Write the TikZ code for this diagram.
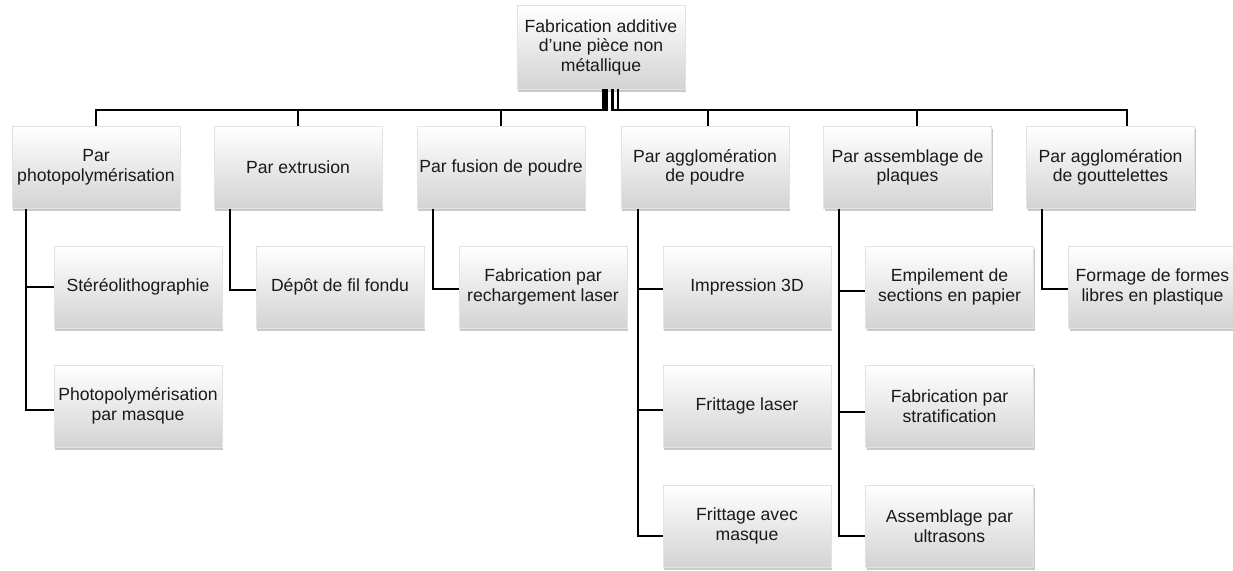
\documentclass[tikz,border=0pt]{standalone}
\usepackage{fontspec}
\setmainfont{Liberation Sans}
\usetikzlibrary{shadows}
\definecolor{boxbot}{HTML}{D3D3D3}
\definecolor{boxline}{HTML}{E2E2E2}
\definecolor{txt}{HTML}{1A1A1A}
\tikzset{
  box/.style={draw=boxline, line width=0.5pt, top color=white, bottom color=boxbot,
    minimum width=168pt, minimum height=82pt, align=center, inner sep=1pt,
    text=txt, font=\fontsize{17.6}{19.5}\selectfont,
    drop shadow={shadow xshift=1pt, shadow yshift=-2.5pt, opacity=0.5, fill=gray!85}},
  conn/.style={draw=black, line width=2pt}
}
\begin{document}
\begin{tikzpicture}[x=1pt,y=1pt]
\useasboundingbox (0,0) rectangle (1233,-570);
% root
\node[box, minimum height=84pt] (root) at (601,-47) {Fabrication additive\\d'une pièce non\\métallique};
% level 1
\node[box] (b1) at (96,-167.5)  {Par\\photopolymérisation};
\node[box] (b2) at (298,-167.5) {Par extrusion};
\node[box] (b3) at (501,-167.5) {Par fusion de poudre};
\node[box] (b4) at (705,-167.5) {Par agglomération\\de poudre};
\node[box] (b5) at (907.5,-167.5) {Par assemblage de\\plaques};
\node[box] (b6) at (1110.5,-167.5) {Par agglomération\\de gouttelettes};
% level 2
\node[box] (c11) at (138,-287) {Stéréolithographie};
\node[box] (c12) at (138,-406) {Photopolymérisation\\par masque};
\node[box] (c21) at (340,-287) {Dépôt de fil fondu};
\node[box] (c31) at (543,-287) {Fabrication par\\rechargement laser};
\node[box] (c41) at (747,-287) {Impression 3D};
\node[box] (c42) at (747,-406) {Frittage laser};
\node[box] (c43) at (747,-526) {Frittage avec\\masque};
\node[box] (c51) at (949.5,-287) {Empilement de\\sections en papier};
\node[box] (c52) at (949.5,-406) {Fabrication par\\stratification};
\node[box] (c53) at (949.5,-526) {Assemblage par\\ultrasons};
\node[box] (c61) at (1152.5,-287) {Formage de formes\\libres en plastique};
% root to level 1
\draw[conn] ([xshift=2pt]root.south) -- ++(0,-21) -| (b1.north);
\draw[conn] ([xshift=4pt]root.south) -- ++(0,-21) -| (b2.north);
\draw[conn] ([xshift=6pt]root.south) -- ++(0,-21) -| (b3.north);
\draw[conn] ([xshift=11pt]root.south) -- ++(0,-21) -| ([xshift=3pt]b4.north);
\draw[conn] ([xshift=12pt]root.south) -- ++(0,-21) -| ([xshift=9.5pt]b5.north);
\draw[conn] ([xshift=17pt]root.south) -- ++(0,-21) -| ([xshift=16.5pt]b6.north);
% level 1 to level 2
\draw[conn] ([xshift=14pt]b1.south west) |- (c11.west);
\draw[conn] ([xshift=14pt]b1.south west) |- ([yshift=-4pt]c12.west);
\draw[conn] ([xshift=16pt]b2.south west) |- ([yshift=-3pt]c21.west);
\draw[conn] ([xshift=16pt]b3.south west) |- ([yshift=-2pt]c31.west);
\draw[conn] ([xshift=17pt]b4.south west) |- ([yshift=-2pt]c41.west);
\draw[conn] ([xshift=17pt]b4.south west) |- ([yshift=-4pt]c42.west);
\draw[conn] ([xshift=17pt]b4.south west) |- ([yshift=-10pt]c43.west);
\draw[conn] ([xshift=16pt]b5.south west) |- ([yshift=-4pt]c51.west);
\draw[conn] ([xshift=16pt]b5.south west) |- ([yshift=-6pt]c52.west);
\draw[conn] ([xshift=16pt]b5.south west) |- ([yshift=-10pt]c53.west);
\draw[conn] ([xshift=16pt]b6.south west) |- ([yshift=-2pt]c61.west);
\end{tikzpicture}
\end{document}
